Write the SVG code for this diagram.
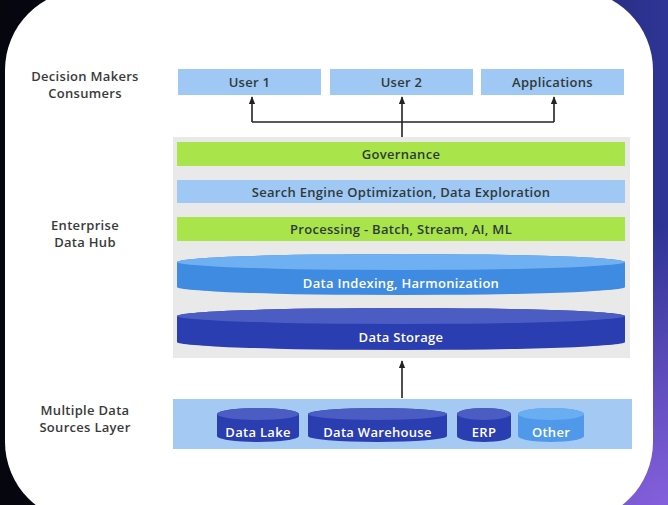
<svg xmlns="http://www.w3.org/2000/svg" width="668" height="505" viewBox="0 0 668 505">
<defs>
<linearGradient id="bgH" x1="0" y1="0" x2="1" y2="0">
<stop offset="0" stop-color="#05060e"/>
<stop offset="0.55" stop-color="#0c1030"/>
<stop offset="1" stop-color="#2f3597"/>
</linearGradient>
<radialGradient id="bgP" cx="1" cy="1" r="0.55">
<stop offset="0" stop-color="#8560dc"/>
<stop offset="1" stop-color="#8560dc" stop-opacity="0"/>
</radialGradient>
<marker id="arr" viewBox="0 0 10 10" refX="9" refY="5" markerWidth="5" markerHeight="5" orient="auto">
<path d="M0,1 L10,5 L0,9 z" fill="#222"/>
</marker>
<style>
.lbl{font-family:"Open Sans","Noto Sans","Liberation Sans",sans-serif;font-size:13px;font-weight:600;letter-spacing:0.3px;fill:#3a3a3a;text-anchor:middle}
.dk{font-family:"Open Sans","Noto Sans","Liberation Sans",sans-serif;font-size:13px;font-weight:600;letter-spacing:0.3px;fill:#2f3a3a;text-anchor:middle;dominant-baseline:central}
.wt{font-family:"Open Sans","Noto Sans","Liberation Sans",sans-serif;font-size:13px;font-weight:600;letter-spacing:0.3px;fill:#ffffff;text-anchor:middle;dominant-baseline:central}
.lb{fill:#9fc8f4}
.gr{fill:#a8e44a}
.conn{stroke:#222;stroke-width:1.6;fill:none}
</style>
</defs>
<rect x="0" y="0" width="668" height="505" fill="url(#bgH)"/>
<rect x="0" y="0" width="668" height="505" fill="url(#bgP)"/>
<rect x="5" y="-10" width="648" height="532" rx="80" ry="80" fill="#ffffff"/>

<g id="side-labels">
<text class="lbl" x="85" y="81">Decision Makers</text>
<text class="lbl" x="85" y="98">Consumers</text>
<text class="lbl" x="85" y="230">Enterprise</text>
<text class="lbl" x="85" y="247">Data Hub</text>
<text class="lbl" x="85" y="415">Multiple Data</text>
<text class="lbl" x="85" y="432">Sources Layer</text>
</g>

<g id="user1"><rect class="lb" x="178" y="69" width="143" height="26"/><text class="dk" x="249.5" y="82">User 1</text></g>
<g id="user2"><rect class="lb" x="330" y="69" width="143" height="26"/><text class="dk" x="401.5" y="82">User 2</text></g>
<g id="applications"><rect class="lb" x="481" y="69" width="143" height="26"/><text class="dk" x="552.5" y="82">Applications</text></g>

<g id="hub"><rect x="173" y="137" width="457" height="221" fill="#e9e9e9"/></g>
<g id="governance"><rect class="gr" x="177" y="142" width="448" height="24"/><text class="dk" x="401" y="154">Governance</text></g>
<g id="search"><rect class="lb" x="177" y="180" width="448" height="23"/><text class="dk" x="401" y="191.5">Search Engine Optimization, Data Exploration</text></g>
<g id="processing"><rect class="gr" x="177" y="217" width="448" height="24"/><text class="dk" x="401" y="229">Processing - Batch, Stream, AI, ML</text></g>

<g id="indexing">
<path d="M177,262 A224,8 0 0,1 625,262 L625,287 A224,8 0 0,1 177,287 Z" fill="#3f8be2"/>
<ellipse cx="401" cy="262" rx="224" ry="8" fill="#6eb0f2"/>
<text class="wt" x="401" y="283">Data Indexing, Harmonization</text>
</g>
<g id="storage">
<path d="M177,316 A224,8 0 0,1 625,316 L625,342 A224,8 0 0,1 177,342 Z" fill="#2a3db1"/>
<ellipse cx="401" cy="316" rx="224" ry="8" fill="#4b5dc2"/>
<text class="wt" x="401" y="337">Data Storage</text>
</g>

<g id="sources"><rect x="173" y="399" width="459" height="50" fill="#a4c9f3"/></g>
<g id="datalake">
<path d="M217,414 A41,6 0 0,1 299,414 L299,436 A41,6 0 0,1 217,436 Z" fill="#2a3db1"/>
<ellipse cx="258" cy="414" rx="41" ry="6" fill="#4b5dc2"/>
<text class="wt" x="258" y="432">Data Lake</text>
</g>
<g id="warehouse">
<path d="M308,414 A69.5,6 0 0,1 447,414 L447,436 A69.5,6 0 0,1 308,436 Z" fill="#2a3db1"/>
<ellipse cx="377.5" cy="414" rx="69.5" ry="6" fill="#4b5dc2"/>
<text class="wt" x="377.5" y="432">Data Warehouse</text>
</g>
<g id="erp">
<path d="M457,414 A27,6 0 0,1 511,414 L511,436 A27,6 0 0,1 457,436 Z" fill="#2a3db1"/>
<ellipse cx="484" cy="414" rx="27" ry="6" fill="#4b5dc2"/>
<text class="wt" x="484" y="432">ERP</text>
</g>
<g id="other">
<path d="M518,414 A33,6 0 0,1 584,414 L584,436 A33,6 0 0,1 518,436 Z" fill="#4f98ea"/>
<ellipse cx="551" cy="414" rx="33" ry="6" fill="#6aaef2"/>
<text class="wt" x="551" y="432">Other</text>
</g>

<g id="connectors">
<path class="conn" d="M402,137 L402,97" marker-end="url(#arr)"/>
<path class="conn" d="M252,122 L554,122"/>
<path class="conn" d="M252,122 L252,97" marker-end="url(#arr)"/>
<path class="conn" d="M554,122 L554,97" marker-end="url(#arr)"/>
<path class="conn" d="M402,398 L402,361" marker-end="url(#arr)"/>
</g>
</svg>
